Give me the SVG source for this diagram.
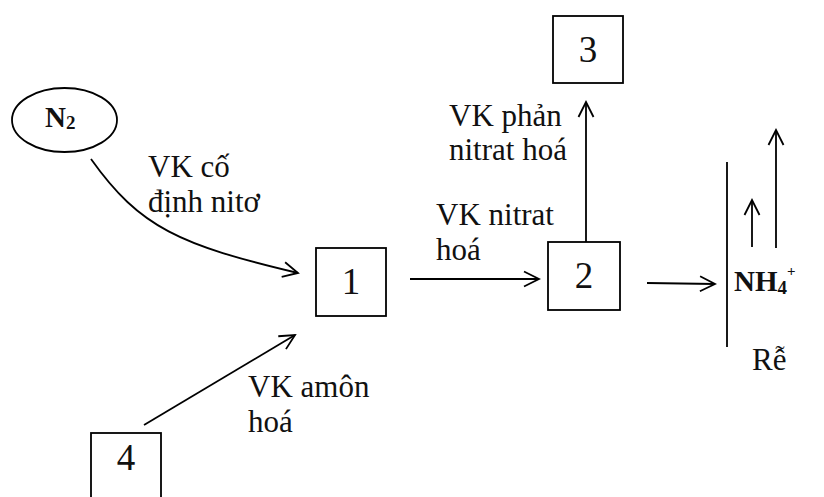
<svg xmlns="http://www.w3.org/2000/svg" width="824" height="497" viewBox="0 0 824 497">
  <style>
    .box { fill: #fff; stroke: #000; stroke-width: 1.8; }
    .line { fill: none; stroke: #000; stroke-width: 1.8; }
    text { font-family: "Liberation Serif", "Times New Roman", serif; fill: #111; }
    .lbl { font-size: 31px; }
    .num { font-size: 37px; text-anchor: middle; }
    .chem { font-weight: bold; font-size: 29px; }
    .sub { font-size: 19px; }
    .sup { font-size: 15px; }
  </style>
  <defs>
    <marker id="open" viewBox="-16 -9 18 18" markerWidth="18" markerHeight="18" refX="0" refY="0" orient="auto" markerUnits="userSpaceOnUse">
      <path d="M-15,-7.5 L0,0 L-15,7.5" fill="none" stroke="#000" stroke-width="1.8"/>
    </marker>
  </defs>

  <rect width="824" height="497" fill="#fff"/>

  <!-- nodes -->
  <g id="n2">
    <ellipse cx="64.5" cy="120" rx="52.5" ry="32" class="box"/>
    <text x="45" y="127" class="chem">N<tspan class="sub" dy="2">2</tspan></text>
  </g>
  <g id="node1">
    <rect x="316" y="248" width="70" height="68" class="box"/>
    <text x="351" y="294" class="num">1</text>
  </g>
  <g id="node2">
    <rect x="548" y="242" width="72" height="68" class="box"/>
    <text x="584" y="288" class="num">2</text>
  </g>
  <g id="node3">
    <rect x="553" y="16" width="70" height="67" class="box"/>
    <text x="588" y="62" class="num">3</text>
  </g>
  <g id="node4">
    <rect x="91" y="433" width="70" height="80" class="box"/>
    <text x="126" y="470" class="num">4</text>
  </g>
  <g id="root">
    <line x1="727" y1="162" x2="727" y2="347" class="line"/>
    <text x="734" y="291" class="chem">NH<tspan class="sub" dy="3">4</tspan><tspan class="sup" dy="-18">+</tspan></text>
    <text x="752" y="370" class="lbl">Rễ</text>
  </g>

  <!-- connectors -->
  <g id="connectors">
    <path d="M91,159 C140,228 180,245 298,273" class="line" marker-end="url(#open)"/>
    <line x1="144" y1="425" x2="295" y2="335" class="line" marker-end="url(#open)"/>
    <line x1="410" y1="279" x2="539" y2="279" class="line" marker-end="url(#open)"/>
    <line x1="586" y1="242" x2="586" y2="102" class="line" marker-end="url(#open)"/>
    <line x1="647" y1="283" x2="715" y2="284" class="line" marker-end="url(#open)"/>
    <line x1="752" y1="247" x2="752" y2="200" class="line" marker-end="url(#open)"/>
    <line x1="776" y1="248" x2="776" y2="130" class="line" marker-end="url(#open)"/>
  </g>

  <!-- connector labels -->
  <g id="labels">
    <text class="lbl"><tspan x="148" y="177">VK cố</tspan><tspan x="148" y="212">định nitơ</tspan></text>
    <text class="lbl"><tspan x="436" y="225">VK nitrat</tspan><tspan x="436" y="260">hoá</tspan></text>
    <text class="lbl"><tspan x="449" y="126">VK phản</tspan><tspan x="449" y="160">nitrat hoá</tspan></text>
    <text class="lbl"><tspan x="248" y="397">VK amôn</tspan><tspan x="248" y="432">hoá</tspan></text>
  </g>
</svg>
